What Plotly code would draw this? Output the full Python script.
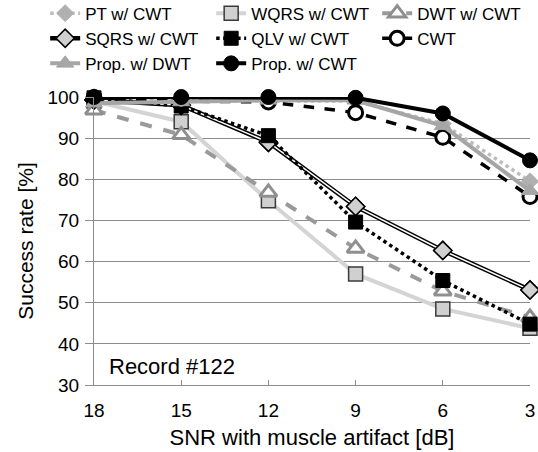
import plotly.graph_objects as go

# SNR levels (dB) on the x axis, from clean to noisy
snr = [18, 15, 12, 9, 6, 3]

# Success rate [%] for each detector
pt_cwt = [100, 99.0, 99.0, 99.0, 93.5, 79.5]
wqrs_cwt = [99.0, 94.0, 74.8, 57.0, 48.5, 43.8]
dwt_cwt = [96.8, 90.8, 76.8, 63.2, 52.8, 46.4]
sqrs_cwt = [99.3, 98.0, 89.0, 73.4, 62.7, 53.1]
qlv_cwt = [99.8, 97.8, 90.6, 69.6, 55.4, 44.8]
cwt = [99.8, 99.0, 98.8, 96.2, 90.2, 75.8]
prop_dwt = [98.5, 98.8, 99.2, 99.2, 93.0, 77.2]
prop_cwt = [100, 100, 100, 99.8, 96.0, 84.6]

y_ticks = [30, 40, 50, 60, 70, 80, 90, 100]

FONT = "Liberation Sans, Arial, sans-serif"
GRID = "#8c8c8c"

fig = go.Figure()


def add(name, y, line, marker, showlegend=True):
    fig.add_trace(go.Scatter(
        x=snr, y=y, name=name, mode="lines+markers",
        line=line, marker=marker, cliponaxis=False,
        showlegend=showlegend,
    ))


add("PT w/ CWT", pt_cwt,
    dict(color="#bdbdbd", width=3.5, dash="dot"),
    dict(symbol="diamond", size=13, color="#b0b0b0",
         line=dict(color="#b0b0b0", width=1)))
add("WQRS w/ CWT", wqrs_cwt,
    dict(color="#d4d4d4", width=4),
    dict(symbol="square", size=14, color="#d0d0d0",
         line=dict(color="#3a3a3a", width=1.5)))
add("DWT w/ CWT", dwt_cwt,
    dict(color="#9a9a9a", width=4, dash="dash"),
    dict(symbol="triangle-up", size=15, color="white",
         line=dict(color="#8f8f8f", width=3)))
add("SQRS w/ CWT", sqrs_cwt,
    dict(color="black", width=4.5),
    dict(symbol="diamond", size=14, color="#d0d0d0",
         line=dict(color="black", width=1.5)))
# white core of the double line for SQRS
fig.add_trace(go.Scatter(
    x=snr, y=sqrs_cwt, mode="lines", showlegend=False, hoverinfo="skip",
    line=dict(color="white", width=1.5), cliponaxis=False,
))
# redraw SQRS markers above the white core
fig.add_trace(go.Scatter(
    x=snr, y=sqrs_cwt, mode="markers", showlegend=False, hoverinfo="skip",
    marker=dict(symbol="diamond", size=14, color="#d0d0d0",
                line=dict(color="black", width=1.5)),
    cliponaxis=False,
))
add("QLV w/ CWT", qlv_cwt,
    dict(color="black", width=3.5, dash="dot"),
    dict(symbol="square", size=14, color="black",
         line=dict(color="black", width=1)))
add("CWT", cwt,
    dict(color="black", width=3.5, dash="dash"),
    dict(symbol="circle", size=14, color="white",
         line=dict(color="black", width=3)))
add("Prop. w/ DWT", prop_dwt,
    dict(color="#a6a6a6", width=4),
    dict(symbol="triangle-up", size=15, color="#a6a6a6",
         line=dict(color="#a6a6a6", width=1)))
add("Prop. w/ CWT", prop_cwt,
    dict(color="black", width=4),
    dict(symbol="circle", size=15, color="black",
         line=dict(color="black", width=1)))

fig.add_annotation(
    x=0.03, y=0.065, xref="paper", yref="paper", xanchor="left",
    yanchor="middle", text="Record #122", showarrow=False,
    font=dict(family=FONT, size=22, color="black"),
)

fig.update_layout(
    width=538, height=452,
    margin=dict(l=94, r=8, t=97, b=67, autoexpand=False),
    paper_bgcolor="white", plot_bgcolor="white",
    font=dict(family=FONT, color="black"),
    showlegend=True,
    legend=dict(
        orientation="h", xref="paper", yref="paper",
        x=-0.112, y=1.352, xanchor="left", yanchor="top",
        entrywidth=121, entrywidthmode="pixels",
        font=dict(family=FONT, size=17, color="black"),
        itemwidth=30, tracegroupgap=0,
        bgcolor="rgba(0,0,0,0)",
    ),
    xaxis=dict(
        range=[18, 3], tickvals=snr, ticktext=[str(v) for v in snr],
        showgrid=False, zeroline=False,
        showline=True, linecolor=GRID, linewidth=1,
        ticks="inside", ticklen=5, tickcolor=GRID,
        tickfont=dict(family=FONT, size=19, color="black"),
        ticklabelstandoff=8,
        title=dict(text="SNR with muscle artifact [dB]",
                   font=dict(family=FONT, size=22, color="black"),
                   standoff=9),
    ),
    yaxis=dict(
        range=[30, 100], tickvals=y_ticks,
        showgrid=True, gridcolor=GRID, gridwidth=1,
        zeroline=False,
        showline=True, linecolor=GRID, linewidth=1,
        ticks="outside", ticklen=8, tickcolor=GRID,
        tickfont=dict(family=FONT, size=19, color="black"),
        ticklabelstandoff=2,
        title=dict(text="Success rate [%]",
                   font=dict(family=FONT, size=21, color="black"),
                   standoff=8),
    ),
)

fig.write_html("out.html")
